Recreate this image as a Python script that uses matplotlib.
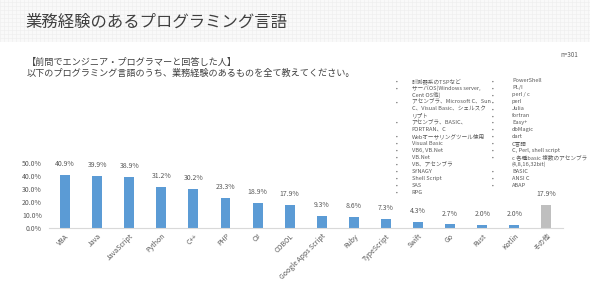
import matplotlib
matplotlib.use("Agg")
import matplotlib.pyplot as plt
import numpy as np

plt.rcParams['font.family'] = ['Noto Sans CJK JP', 'DejaVu Sans']

categories = ["VBA", "Java", "JavaScript", "Python", "C++", "PHP", "C#", "COBOL",
              "Google Apps Script", "Ruby", "TypeScript", "Swift", "Go", "Rust",
              "Kotlin", "その他"]
values = [40.9, 39.9, 38.9, 31.2, 30.2, 23.3, 18.9, 17.9, 9.3, 8.6, 7.3, 4.3,
          2.7, 2.0, 2.0, 17.9]
yticks = [0, 10, 20, 30, 40, 50]

title = "業務経験のあるプログラミング言語"
subtitle1 = "【前問でエンジニア・プログラマーと回答した人】"
subtitle2 = "以下のプログラミング言語のうち、業務経験のあるものを全て教えてください。"
n_label = "n=301"

# (bullet?, text)
others_left = [
    (True, "計測器系のTSPなど"),
    (True, "サーバOS(Windows server,"),
    (False, "Cent OS他)"),
    (True, "アセンブラ、Microsoft C、Sun"),
    (False, "C、Visual Basic、シェルスク"),
    (False, "リプト"),
    (True, "アセンブラ、BASIC、"),
    (False, "FORTRAN、C"),
    (True, "Webオーサリングツール使用"),
    (True, "Visual Basic"),
    (True, "VB6, VB.Net"),
    (True, "VB.Net"),
    (True, "VB、アセンブラ"),
    (True, "SYNAGY"),
    (True, "Shell Script"),
    (True, "SAS"),
    (True, "RPG"),
]
others_right = [
    (True, "PowerShell"),
    (True, "PL/I"),
    (True, "perl / c"),
    (True, "perl"),
    (True, "Julia"),
    (True, "fortran"),
    (True, "Easy+"),
    (True, "dbMagic"),
    (True, "dart"),
    (True, "C言語"),
    (True, "C, Perl, shell script"),
    (True, "c 各種basic 複数のアセンブラ"),
    (False, "(4,8,16,32bit)"),
    (True, "BASIC"),
    (True, "ANSI C"),
    (True, "ABAP"),
]

W, H = 590, 285
fig = plt.figure(figsize=(W / 100, H / 100), dpi=100)
fig.patch.set_facecolor("white")

# header band with grid pattern
hdr = fig.add_axes([0, 1 - 42 / H, 1, 42 / H])
hdr.set_xlim(0, W)
hdr.set_ylim(0, 42)
hdr.set_facecolor("#f9f9f9")
for x in np.arange(0, W, 4):
    hdr.axvline(x, color="#efefef", lw=0.5)
for y in np.arange(0, 42, 4):
    hdr.axhline(y, color="#efefef", lw=0.5)
hdr.axis("off")
hdr.add_patch(plt.Rectangle((0, 0), W, 42, facecolor="#f9f9f9", zorder=-1))

text_col = "#595959"
fig.text(25 / W, 1 - 22 / H, title, fontsize=11.8, color="#404040",
         va="center", ha="left")
fig.text(27 / W, 1 - 62 / H, subtitle1, fontsize=6.6, color="#404040",
         va="center", ha="left")
fig.text(27 / W, 1 - 73.5 / H, subtitle2, fontsize=6.6, color="#404040",
         va="center", ha="left")
fig.text(578 / W, 1 - 55 / H, n_label, fontsize=4.5, color=text_col,
         va="center", ha="right")

# annotation lists
y0 = 81
dy = 6.94
for col, (bx, tx) in zip([others_left, others_right], [(396.5, 411.5), (492.5, 512)]):
    for i, (bul, t) in enumerate(col):
        yy = 1 - (y0 + i * dy) / H
        if bul:
            fig.text(bx / W, yy, "•", fontsize=3.5, color=text_col,
                     va="center", ha="center")
        fig.text(tx / W, yy, t, fontsize=4.05, color=text_col,
                 va="center", ha="left")

# chart
ax = fig.add_axes([49 / W, 1 - 228 / H, 513.5 / W, 65 / H])
x = np.arange(len(categories))
colors = ["#5B9BD5"] * (len(categories) - 1) + ["#BFBFBF"]
ax.bar(x, values, width=0.31, color=colors, zorder=2)
ax.set_xlim(-0.5, len(categories) - 0.5)
ax.set_ylim(0, 50)
ax.set_yticks(yticks)
ax.set_yticklabels([f"{v:.1f}%" for v in yticks])
ax.set_xticks(x)
ax.set_xticklabels(categories, rotation=45, ha="right", va="top",
                   rotation_mode="anchor")
ax.tick_params(axis="both", length=0, labelsize=5, colors=text_col)
ax.tick_params(axis="y", pad=5)
ax.tick_params(axis="x", pad=3)
for s in ["top", "right", "left"]:
    ax.spines[s].set_visible(False)
ax.spines["bottom"].set_color("#d9d9d9")
ax.spines["bottom"].set_linewidth(0.8)
for xi, v in zip(x, values):
    ax.annotate(f"{v:.1f}%", (xi, v), xytext=(0, 5), textcoords="offset points",
                ha="center", va="bottom", fontsize=5, color=text_col,
                annotation_clip=False)

fig.savefig("out.png", dpi=100)
